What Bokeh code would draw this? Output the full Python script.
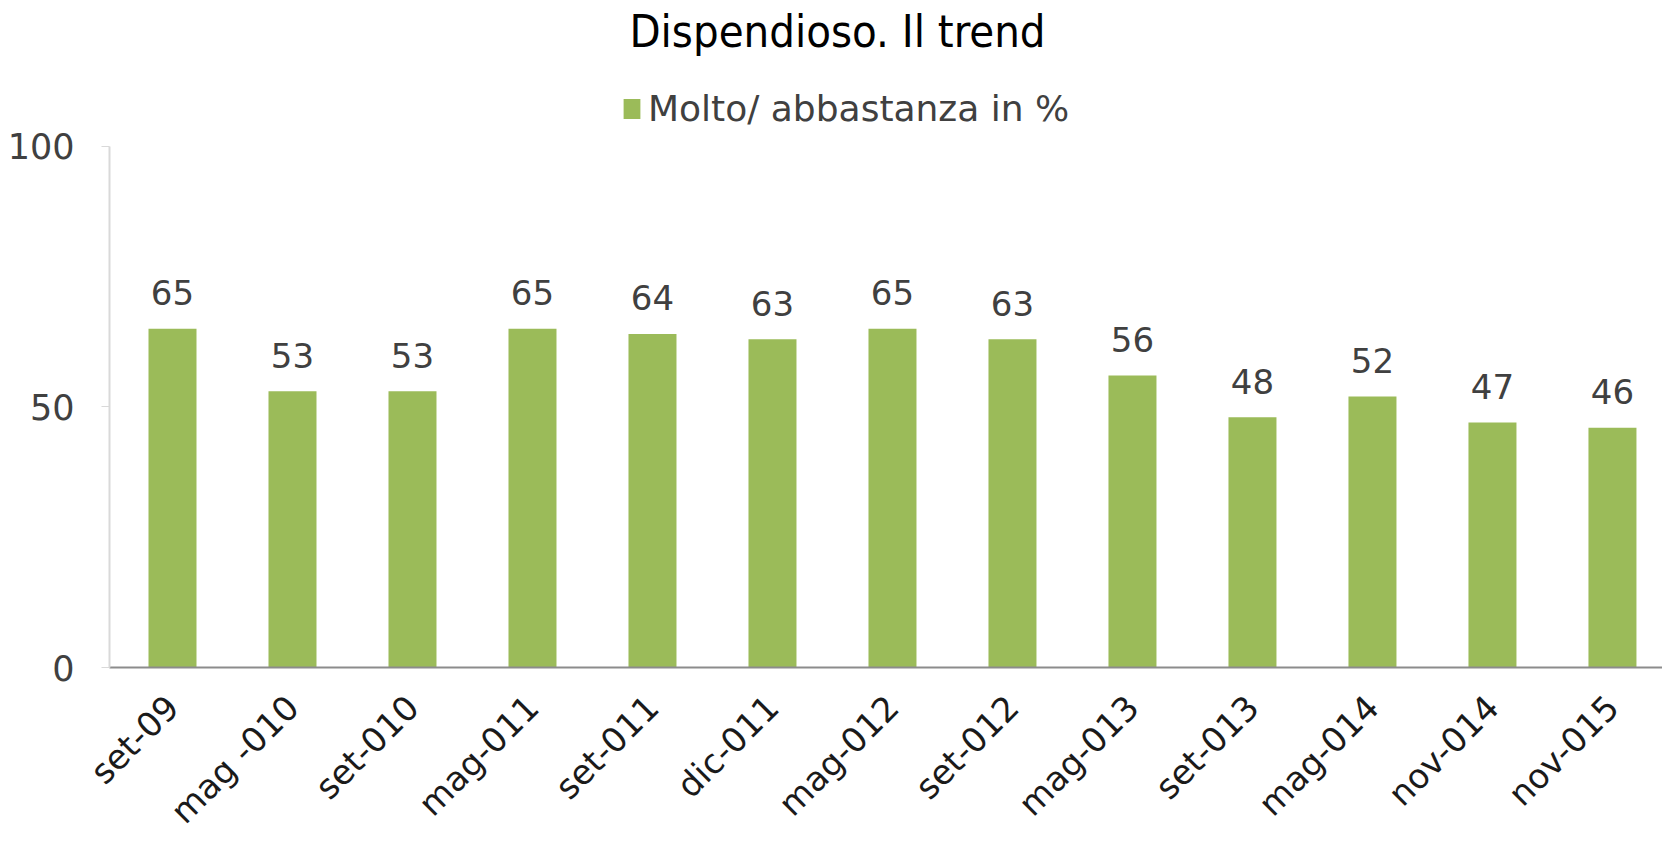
import math
from bokeh.plotting import figure
from bokeh.models import Range1d, LabelSet, Label, ColumnDataSource, Legend, LegendItem, FixedTicker
from bokeh.core.properties import value
from bokeh.embed import file_html
from bokeh.resources import INLINE

categories = ["set-09", "mag -010", "set-010", "mag-011", "set-011", "dic-011", "mag-012",
              "set-012", "mag-013", "set-013", "mag-014", "nov-014", "nov-015"]
values = [65, 53, 53, 65, 64, 63, 65, 63, 56, 48, 52, 47, 46]
y_ticks = [0, 50, 100]
series_name = "Molto/ abbastanza in %"
title_text = "Dispendioso. Il trend"

GREEN = "#9BBB59"
TXT = "#404040"

idx = list(range(len(categories)))
src = ColumnDataSource(dict(x=idx, y=values, lab=[str(v) for v in values], cat=categories))

p = figure(width=1662, height=848,
           x_range=Range1d(-0.525, 12.417), y_range=Range1d(0, 127.97),
           output_backend="svg", toolbar_location=None,
           min_border_left=109, min_border_right=0, min_border_bottom=180, min_border_top=0)

title = Label(x=728, y=636, x_units="screen", y_units="screen", text=title_text,
              text_align="center", text_baseline="middle",
              text_font="DejaVu Sans Condensed", text_font_size="45px",
              text_color="#000000")
p.add_layout(title)

r = p.vbar(x="x", top="y", width=0.4, source=src, fill_color=GREEN, line_color=None)

labels = LabelSet(x="x", y="y", text="lab", source=src, y_offset=36,
                  text_align="center", text_baseline="middle",
                  text_font=value("DejaVu Sans"), text_font_size=value("34px"), text_color=TXT)
p.add_layout(labels)

legend = Legend(items=[LegendItem(label=series_name, renderers=[r])],
                orientation="horizontal", location=(512, 538),
                label_text_font="DejaVu Sans", label_text_font_size="36px",
                label_text_color=TXT, glyph_width=21, glyph_height=25,
                label_standoff=6, padding=0, margin=0, border_line_color=None,
                background_fill_alpha=0)
p.add_layout(legend)

p.xgrid.visible = False
p.ygrid.visible = False
p.outline_line_color = None

p.xaxis.ticker = FixedTicker(ticks=idx)
p.xaxis.major_label_overrides = {i: c for i, c in zip(idx, categories)}
p.xaxis.major_label_orientation = math.pi / 4
p.xaxis.major_label_text_font = "DejaVu Sans"
p.xaxis.major_label_text_font_size = "34px"
p.xaxis.major_label_text_color = "#1a1a1a"
p.xaxis.major_label_standoff = 28
p.xaxis.axis_line_color = "#8c8c8c"
p.xaxis.axis_line_width = 2
p.xaxis.major_tick_line_color = None
p.xaxis.minor_tick_line_color = None

p.yaxis.ticker = FixedTicker(ticks=y_ticks)
p.yaxis.bounds = (0, 100)
p.yaxis.major_label_text_font = "DejaVu Sans"
p.yaxis.major_label_text_font_size = "35px"
p.yaxis.major_label_text_color = TXT
p.yaxis.major_label_standoff = 27
p.yaxis.axis_line_color = "#d9d9d9"
p.yaxis.axis_line_width = 2
p.yaxis.major_tick_line_color = "#d9d9d9"
p.yaxis.major_tick_out = 8
p.yaxis.major_tick_in = 0
p.yaxis.minor_tick_line_color = None

open("out.html", "w").write(file_html(p, INLINE))
